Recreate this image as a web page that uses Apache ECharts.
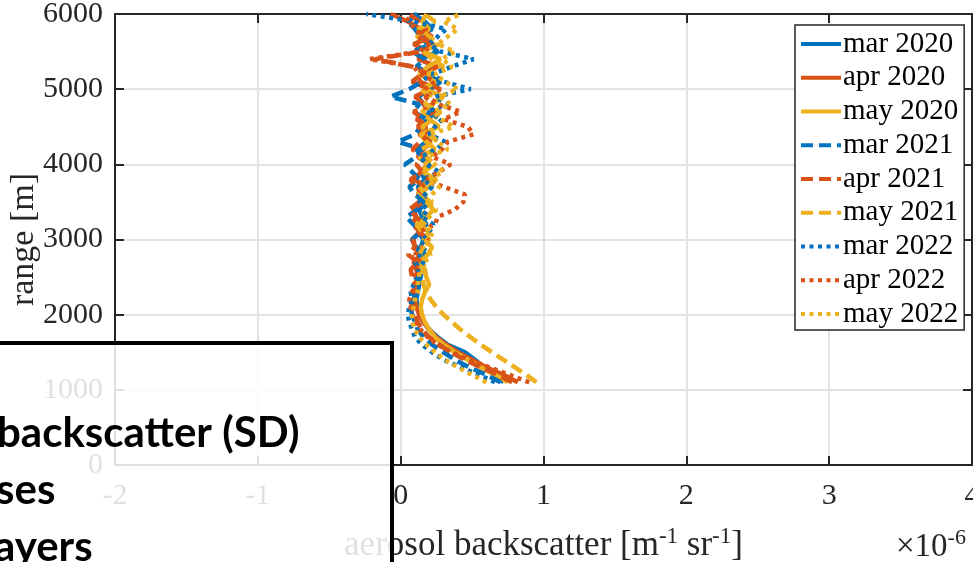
<!DOCTYPE html>
<html>
<head>
<meta charset="utf-8">
<script src="https://cdn.jsdelivr.net/npm/echarts@6/dist/echarts.min.js"></script>
<style>
  html, body { margin: 0; padding: 0; background: #ffffff; }
  #chart { width: 973px; height: 562px; }
</style>
</head>
<body>
<div id="chart"></div>
<script>
// Range bins of the lidar profiles [m]
const rangeBins = [
  1100, 1200, 1300, 1400, 1500, 1600, 1700, 1800, 1900, 2000,
  2100, 2200, 2300, 2400, 2500, 2600, 2700, 2800, 2900, 3000,
  3100, 3200, 3300, 3400, 3500, 3600, 3700, 3800, 3900, 4000,
  4100, 4200, 4300, 4400, 4500, 4600, 4700, 4800, 4900, 5000,
  5100, 5200, 5300, 5400, 5500, 5600, 5700, 5800, 5900, 6000
];

// Monthly mean aerosol backscatter profiles, in units of 1e-6 m^-1 sr^-1
const mar2020 = [0.72,0.66,0.58,0.52,0.45,0.33,0.26,0.20,0.16,0.13,0.12,0.11,0.12,0.13,0.14,
  0.15,0.13,0.17,0.14,0.16,0.12,0.18,0.15,0.13,0.19,0.16,0.12,0.17,0.14,0.20,0.15,0.11,0.18,0.22,0.14,
  0.19,0.25,0.16,0.12,0.21,0.28,0.17,0.23,0.14,0.26,0.19,0.13,0.22,0.17,0.09];
const apr2020 = [0.82,0.72,0.60,0.50,0.40,0.32,0.25,0.20,0.16,0.13,0.11,0.10,0.09,0.10,0.12,
  0.11,0.09,0.14,0.10,0.08,0.13,0.16,0.11,0.09,0.15,0.12,0.17,0.10,0.14,0.19,0.12,0.16,0.21,0.13,0.18,
  0.11,0.24,0.17,0.10,0.20,0.08,0.15,0.26,0.12,0.19,0.09,0.22,0.14,0.05,-0.07];
const may2020 = [0.75,0.66,0.56,0.47,0.38,0.30,0.24,0.20,0.17,0.15,0.14,0.15,0.17,0.20,0.18,
  0.17,0.14,0.19,0.22,0.16,0.20,0.13,0.18,0.23,0.17,0.12,0.20,0.25,0.15,0.19,0.13,0.24,0.18,0.14,0.27,
  0.20,0.15,0.22,0.30,0.17,0.24,0.13,0.19,0.28,0.16,0.23,0.11,0.20,0.15,0.18];
const mar2021 = [0.70,0.60,0.48,0.38,0.30,0.22,0.16,0.12,0.10,0.08,0.07,0.09,0.11,0.12,0.12,
  0.13,0.10,0.15,0.11,0.08,0.14,0.09,0.04,0.12,0.16,0.10,0.06,0.13,0.08,0.03,0.11,0.15,-0.02,0.10,0.14,
  0.18,0.09,0.13,-0.07,0.06,0.15,0.21,0.11,0.17,0.08,0.22,0.14,0.10,0.05,0.12];
const apr2021 = [0.78,0.68,0.56,0.45,0.35,0.27,0.20,0.15,0.12,0.10,0.08,0.07,0.09,0.10,0.08,
  0.07,0.12,0.05,0.10,0.09,0.14,0.08,0.11,0.06,0.13,0.17,0.10,0.07,0.15,0.11,0.18,0.08,0.14,0.20,0.12,
  0.16,0.09,0.23,0.17,0.28,0.13,0.19,0.08,-0.18,0.15,0.24,0.11,0.18,0.13,0.06];
const may2021 = [0.95,0.88,0.80,0.72,0.64,0.56,0.49,0.42,0.36,0.30,0.25,0.21,0.18,0.16,0.15,
  0.14,0.18,0.13,0.16,0.20,0.15,0.11,0.19,0.14,0.22,0.17,0.13,0.21,0.16,0.24,0.18,0.14,0.26,0.19,0.15,
  0.23,0.28,0.17,0.21,0.14,0.25,0.19,0.30,0.22,0.16,0.27,0.20,0.12,0.24,0.17];
const mar2022 = [0.66,0.55,0.42,0.30,0.22,0.15,0.10,0.08,0.06,0.05,0.06,0.08,0.07,0.09,0.11,
  0.12,0.16,0.13,0.18,0.14,0.20,0.23,0.15,0.19,0.13,0.17,0.22,0.16,0.27,0.18,0.14,0.25,0.31,0.20,0.24,
  0.29,0.18,0.33,0.24,0.49,0.30,0.22,0.36,0.51,0.28,0.20,0.26,0.32,0.09,-0.24];
const apr2022 = [0.90,0.76,0.62,0.48,0.36,0.26,0.19,0.14,0.10,0.08,0.07,0.06,0.08,0.10,0.09,
  0.11,0.14,0.10,0.15,0.19,0.13,0.24,0.26,0.38,0.44,0.45,0.30,0.18,0.27,0.35,0.22,0.29,0.33,0.51,0.47,
  0.30,0.42,0.26,0.19,0.17,0.24,0.14,0.09,-0.22,0.13,0.20,0.16,0.10,0.06,0.02];
const may2022 = [0.60,0.50,0.40,0.31,0.24,0.18,0.13,0.10,0.08,0.08,0.09,0.10,0.12,0.12,0.13,
  0.13,0.17,0.21,0.15,0.19,0.23,0.16,0.20,0.25,0.18,0.22,0.27,0.19,0.30,0.24,0.18,0.33,0.26,0.21,0.37,
  0.28,0.23,0.35,0.27,0.40,0.31,0.24,0.36,0.29,0.38,0.26,0.33,0.40,0.30,0.42];

const seriesNames = ['mar 2020','apr 2020','may 2020','mar 2021','apr 2021','may 2021','mar 2022','apr 2022','may 2022'];
const seriesValues = [mar2020, apr2020, may2020, mar2021, apr2021, may2021, mar2022, apr2022, may2022];

// Axis ticks
const xTicks = [-2, -1, 0, 1, 2, 3, 4];
const yTicks = [0, 1000, 2000, 3000, 4000, 5000, 6000];

const monthColors = ['#0072BD', '#D95319', '#EDB120'];
const yearDash = ['solid', [12, 6], [4, 4.5]];

const serif = 'Liberation Serif';
const ink = '#262626';

const series = seriesNames.map((name, i) => ({
  name: name,
  type: 'line',
  xAxisIndex: 0,
  yAxisIndex: 0,
  symbol: 'none',
  smooth: false,
  clip: true,
  data: seriesValues[i].map((v, k) => [v, rangeBins[k]]),
  lineStyle: {
    color: monthColors[i % 3],
    width: 4.5,
    type: yearDash[Math.floor(i / 3)],
    cap: 'butt'
  },
  itemStyle: { color: monthColors[i % 3] },
  emphasis: { disabled: true },
  z: 2 + i
}));

const frameAxis = {
  axisLine: { show: true, onZero: false, lineStyle: { color: ink, width: 2 } },
  axisTick: { show: true, inside: true, length: 9, lineStyle: { color: ink, width: 2 } }
};

const chart = echarts.init(document.getElementById('chart'), null, { renderer: 'canvas' });
chart.setOption({
  animation: false,
  backgroundColor: '#ffffff',
  grid: { left: 115, right: 1, top: 14, bottom: 97, containLabel: false, outerBoundsMode: 'none' },
  xAxis: [
    Object.assign({
      type: 'value', position: 'bottom',
      min: xTicks[0], max: xTicks[xTicks.length - 1], interval: 1,
      axisLabel: { show: true, margin: 16, fontFamily: serif, fontSize: 30, color: ink,
        formatter: v => (xTicks.indexOf(v) >= 0 ? String(v) : '') },
      splitLine: { show: true, lineStyle: { color: '#e3e3e3', width: 2 } },
      name: '{a|aerosol backscatter [m}{s|-1}{a| sr}{s|-1}{a|]}',
      nameLocation: 'middle', nameGap: 60, nameMoveOverlap: false,
      nameTextStyle: {
        rich: {
          a: { fontFamily: serif, fontSize: 35, color: ink, lineHeight: 42 },
          s: { fontFamily: serif, fontSize: 23, color: ink, verticalAlign: 'top', lineHeight: 23 }
        }
      }
    }, frameAxis),
    Object.assign({
      type: 'value', position: 'top',
      min: xTicks[0], max: xTicks[xTicks.length - 1], interval: 1,
      axisLabel: { show: false }, splitLine: { show: false }
    }, frameAxis)
  ],
  yAxis: [
    Object.assign({
      type: 'value', position: 'left',
      min: yTicks[0], max: yTicks[yTicks.length - 1], interval: 1000,
      axisLabel: { show: true, margin: 12, fontFamily: serif, fontSize: 30, color: ink,
        formatter: v => (yTicks.indexOf(v) >= 0 ? String(v) : '') },
      splitLine: { show: true, lineStyle: { color: '#e3e3e3', width: 2 } },
      name: 'range [m]', nameLocation: 'middle', nameGap: 74, nameMoveOverlap: false,
      nameTextStyle: { fontFamily: serif, fontSize: 34, color: ink }
    }, frameAxis),
    Object.assign({
      type: 'value', position: 'right',
      min: yTicks[0], max: yTicks[yTicks.length - 1], interval: 1000,
      axisLabel: { show: false }, splitLine: { show: false }
    }, frameAxis)
  ],
  legend: {
    orient: 'vertical',
    left: 795, top: 25,
    padding: [4, 6, 1, 4],
    itemWidth: 40, itemHeight: 14, itemGap: 3.75,
    backgroundColor: '#ffffff',
    borderColor: ink, borderWidth: 1.5, borderRadius: 0,
    selectedMode: false,
    itemStyle: { opacity: 0 },
    lineStyle: { width: 4 },
    textStyle: { fontFamily: serif, fontSize: 29, color: '#000000', lineHeight: 30, padding: [0, 0, 0, -3] },
    data: seriesNames
  },
  series: series,
  graphic: [
    {
      type: 'text', left: 896, top: 527, z: 50,
      style: {
        text: '{a|×10}{s|-6}',
        rich: {
          a: { fontFamily: serif, fontSize: 33, fill: ink, lineHeight: 40 },
          s: { fontFamily: serif, fontSize: 22, fill: ink, verticalAlign: 'top', lineHeight: 22 }
        }
      }
    },
    {
      type: 'rect', z: 100,
      shape: { x: -10, y: 343, width: 402, height: 240 },
      style: { fill: 'rgba(255,255,255,0.86)', stroke: '#000000', lineWidth: 4 }
    },
    {
      type: 'text', x: -3, y: 412, z: 101,
      style: { text: 'backscatter (SD)', font: 'bold 42px Lato', fill: '#000000' }
    },
    {
      type: 'text', x: -4, y: 469, z: 101,
      style: { text: 'ses', font: 'bold 42px Lato', fill: '#000000' }
    },
    {
      type: 'text', x: -6, y: 526, z: 101,
      style: { text: 'ayers', font: 'bold 42px Lato', fill: '#000000' }
    }
  ]
});
</script>
</body>
</html>
